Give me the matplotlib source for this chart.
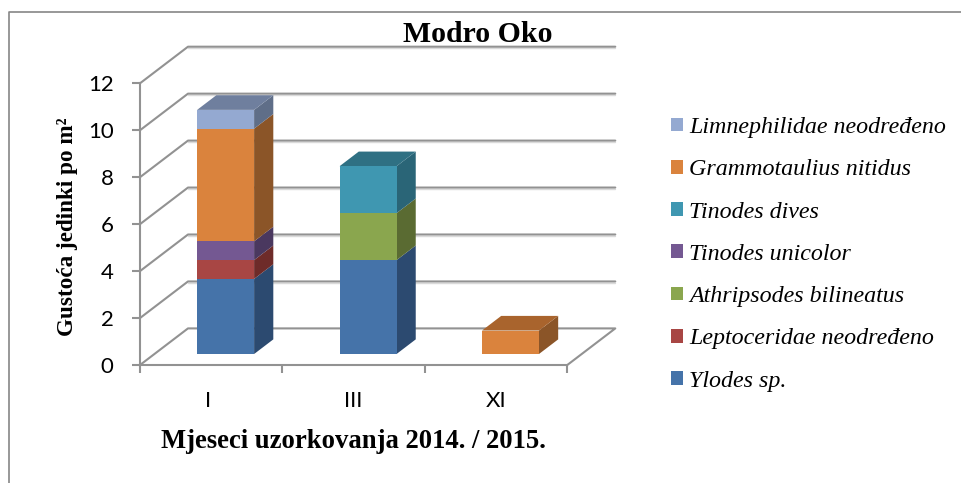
import matplotlib
matplotlib.use("Agg")
import matplotlib.pyplot as plt
from matplotlib.patches import Polygon, Rectangle
from matplotlib.lines import Line2D

W, H = 961, 483
categories = ["I", "III", "XI"]
series = ["Ylodes sp.", "Leptoceridae neodređeno", "Athripsodes bilineatus",
          "Tinodes unicolor", "Tinodes dives", "Grammotaulius nitidus",
          "Limnephilidae neodređeno"]
# stacking order per category follows the series order
ylodes = [3.2, 4.0, 0]
leptoceridae = [0.8, 0, 0]
athripsodes = [0, 2.0, 0]
t_unicolor = [0.8, 0, 0]
t_dives = [0, 2.0, 0]
grammotaulius = [4.8, 0, 1.0]
limnephilidae = [0.8, 0, 0]
values = [ylodes, leptoceridae, athripsodes, t_unicolor, t_dives, grammotaulius, limnephilidae]
yticks = [0, 2, 4, 6, 8, 10, 12]

front = ["#4573A9", "#A84644", "#8AA64E", "#745892", "#3F97B1", "#DA833D", "#94A9D1"]
side = ["#2C4A70", "#6E2B29", "#5A6B32", "#4A385F", "#2A6577", "#8B5528", "#5F6E88"]
top = ["#34587F", "#823432", "#687D3A", "#574270", "#2F7083", "#A9642D", "#6F7F9E"]

fig = plt.figure(figsize=(W / 100, H / 100), dpi=100)
fig.patch.set_facecolor("white")


def axpos(x0, x1, ytop, ybot):
    return [x0 / W, 1 - ybot / H, (x1 - x0) / W, (ybot - ytop) / H]


ax = fig.add_axes(axpos(140, 567.3, 83.3, 365))
ax.set_xlim(0, 3)
ax.set_ylim(0, 12)
ax.patch.set_alpha(0)
for s in ["top", "right"]:
    ax.spines[s].set_visible(False)
GRID = "#929292"
SHADOW = "#DADADA"
for s in ["left", "bottom"]:
    ax.spines[s].set_color(GRID)
    ax.spines[s].set_linewidth(1.5)

# oblique projection: depth z in 0..1 maps to a shift in data units
DX = 48 / (427.3 / 3)
DY = 36.6 / (281.7 / 12)


def P(x, y, z):
    return (x + z * DX, y + z * DY)


def line(pts, **kw):
    xs, ys = zip(*pts)
    ax.add_line(Line2D(xs, ys, clip_on=False, solid_capstyle="round", **kw))


for yv in yticks:
    pts = [P(0, yv, 0), P(0, yv, 1), P(3, yv, 1)]
    if yv == 0:
        pts.append(P(3, 0, 0))
    shifted = [(a, b - 0.07) for a, b in pts]
    if yv:
        line(shifted[1:], color=SHADOW, lw=1.0, zorder=1)
    line(pts, color=GRID, lw=1.5, zorder=1.5)

BAR_W = 0.4
Z0, Z1 = 0.3, 0.7
for i in range(len(categories)):
    base = 0.0
    xl, xr = i + 0.5 - BAR_W / 2, i + 0.5 + BAR_W / 2
    last = max(k for k, v in enumerate(values) if v[i] > 0)
    for k, v in enumerate(values):
        val = v[i]
        if val <= 0:
            continue
        t = base + val
        ax.add_patch(Polygon([P(xr, base, Z0), P(xr, base, Z1), P(xr, t, Z1), P(xr, t, Z0)],
                             fc=side[k], ec="none", clip_on=False, zorder=3))
        ax.add_patch(Polygon([P(xl, base, Z0), P(xr, base, Z0), P(xr, t, Z0), P(xl, t, Z0)],
                             fc=front[k], ec="none", clip_on=False, zorder=4))
        if k == last:
            ax.add_patch(Polygon([P(xl, t, Z0), P(xr, t, Z0), P(xr, t, Z1), P(xl, t, Z1)],
                                 fc=top[k], ec="none", clip_on=False, zorder=3))
        base = t

ax.set_yticks(yticks)
ax.set_xticks([0, 1, 2, 3])
ax.set_xticklabels([])
ax.set_xticks([0.48, 1.5, 2.5], minor=True)
ax.set_xticklabels(categories, minor=True, fontfamily="Lato", fontsize=16)
ax.tick_params(axis="x", which="major", length=6, width=1.5, color=GRID)
ax.tick_params(axis="x", which="minor", length=0, pad=18.5)
ax.tick_params(axis="y", length=6, width=1.5, color=GRID, pad=13, labelsize=16)
for lab in ax.get_yticklabels():
    lab.set_fontfamily("Lato")

SERIF = "Liberation Serif"
fig.text(478 / W, 1 - 35 / H, "Modro Oko", family=SERIF, weight="bold", fontsize=21.4,
         ha="center", va="center")
fig.text(353 / W, 1 - 442 / H, "Mjeseci uzorkovanja 2014. / 2015.", family=SERIF,
         weight="bold", fontsize=19.2, ha="center", va="center")
fig.text(68 / W, 1 - 227 / H, "Gustoća jedinki po m²", family=SERIF, weight="bold",
         fontsize=16.7, rotation=90, ha="center", va="center")

handles = [Rectangle((0, 0), 1, 1, fc=front[k], ec="none") for k in reversed(range(len(series)))]
labels = list(reversed(series))
leg = fig.legend(handles, labels, loc="upper left", bbox_to_anchor=(671 / W, 1 - 117 / H),
                 frameon=False, prop={"family": SERIF, "style": "italic", "size": 17.3},
                 handlelength=0.5, handleheight=0.5, handletextpad=0.25,
                 labelspacing=0.885, borderpad=0, borderaxespad=0)

# outer frame of the embedded chart
fig.add_artist(Line2D([1, 8.5 / W, 8.5 / W], [1 - 11.5 / H, 1 - 11.5 / H, 0],
                      color="#868686", lw=1.2, transform=fig.transFigure))

fig.savefig("out.png", dpi=100)
